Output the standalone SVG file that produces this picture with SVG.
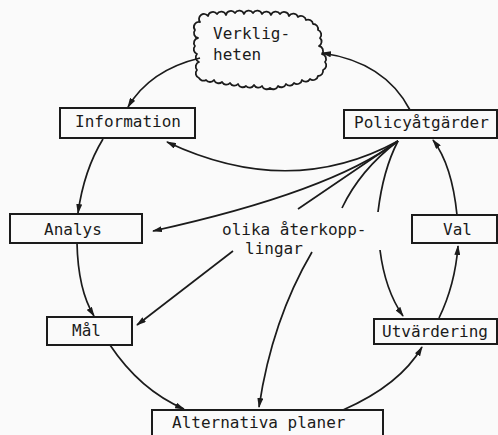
<svg xmlns="http://www.w3.org/2000/svg" width="498" height="435" viewBox="0 0 498 435">
  <style>
    .box { fill: none; stroke: #1b1b1b; stroke-width: 2; }
    .lbl { font-family: "DejaVu Sans Mono", "Liberation Mono", monospace; font-size: 16px; fill: #1b1b1b; }
    .edge { fill: none; stroke: #1b1b1b; stroke-width: 1.7; }
    .cloud { fill: none; stroke: #1b1b1b; stroke-width: 1.8; stroke-linejoin: round; }
  </style>
  <defs>
    <marker id="arrow" markerUnits="userSpaceOnUse" markerWidth="10" markerHeight="6" refX="9" refY="3" orient="auto">
      <path d="M0,0 L10,3 L0,6 z" fill="#1b1b1b"/>
    </marker>
  </defs>
  <rect width="498" height="435" fill="#fafafa"/>

  <g id="connectors">
    <!-- main cycle -->
    <path class="edge" d="M200,58 Q150,70 128,107" marker-end="url(#arrow)"/>
    <path class="edge" d="M103,139 Q84,170 78,213" marker-end="url(#arrow)"/>
    <path class="edge" d="M77,243 Q78,290 94,316" marker-end="url(#arrow)"/>
    <path class="edge" d="M110,345 Q140,390 184,409" marker-end="url(#arrow)"/>
    <path class="edge" d="M343,410 Q400,385 422,347" marker-end="url(#arrow)"/>
    <path class="edge" d="M439,318 Q455,285 458,246" marker-end="url(#arrow)"/>
    <path class="edge" d="M457,215 Q452,165 433,140" marker-end="url(#arrow)"/>
    <path class="edge" d="M410,110 Q385,62 322,53" marker-end="url(#arrow)"/>
    <!-- feedback fan from Policyåtgärder -->
    <path class="edge" d="M398,141 Q290,200 167,142" marker-end="url(#arrow)"/>
    <path class="edge" d="M398,141 Q330,192 153,231" marker-end="url(#arrow)"/>
    <path class="edge" d="M398,141 L298,209"/>
    <path class="edge" d="M233,251 L137,325" marker-end="url(#arrow)"/>
    <path class="edge" d="M398,141 Q360,170 342,208"/>
    <path class="edge" d="M312,252 Q272,320 259,407" marker-end="url(#arrow)"/>
    <path class="edge" d="M398,141 Q383,170 378,212"/>
    <path class="edge" d="M380,250 Q385,290 403,316" marker-end="url(#arrow)"/>
  </g>

  <g id="verkligheten">
    <path class="cloud" d="M200,22 A5,5 0 0 1 208,16 A5,5 0 0 1 217,14 A5,5 0 0 1 226,15 A5,5 0 0 1 235,13 A5,5 0 0 1 244,14 A5,5 0 0 1 253,13 A5,5 0 0 1 262,14 A5,5 0 0 1 271,15 A5,5 0 0 1 280,14 A5,5 0 0 1 289,16 A5,5 0 0 1 298,17 A5,5 0 0 1 306,20 A5,5 0 0 1 313,24 A5,5 0 0 1 318,30 A5,5 0 0 1 320,38 A5,5 0 0 1 319,46 A5,5 0 0 1 322,54 A5,5 0 0 1 325,62 A5,5 0 0 1 323,70 A5,5 0 0 1 318,76 A5,5 0 0 1 310,79 A5,5 0 0 1 302,80 A5,5 0 0 1 294,83 A5,5 0 0 1 286,84 A5,5 0 0 1 278,86 A5,5 0 0 1 270,88 A5,5 0 0 1 262,86 A5,5 0 0 1 254,85 A5,5 0 0 1 246,86 A5,5 0 0 1 238,84 A5,5 0 0 1 230,83 A5,5 0 0 1 222,82 A5,5 0 0 1 214,80 A5,5 0 0 1 206,80 A5,5 0 0 1 199,78 A5,5 0 0 1 197,70 A5,5 0 0 1 199,62 A5,5 0 0 1 197,54 A5,5 0 0 1 195,46 A5,5 0 0 1 198,38 A5,5 0 0 1 195,30 A5,5 0 0 1 200,22 Z"/>
    <text class="lbl" x="213" y="39">Verklig-</text>
    <text class="lbl" x="213" y="60">heten</text>
  </g>

  <g id="information">
    <rect class="box" x="60" y="108" width="135" height="30"/>
    <text class="lbl" x="75" y="127">Information</text>
  </g>

  <g id="policyatgarder">
    <rect class="box" x="344" y="110" width="153" height="28"/>
    <text class="lbl" x="354" y="128">Policyåtgärder</text>
  </g>

  <g id="analys">
    <rect class="box" x="10" y="214" width="132" height="29"/>
    <text class="lbl" x="44" y="235">Analys</text>
  </g>

  <g id="val">
    <rect class="box" x="412" y="215" width="85" height="28"/>
    <text class="lbl" x="443" y="235">Val</text>
  </g>

  <g id="mal">
    <rect class="box" x="47" y="317" width="85" height="28"/>
    <text class="lbl" x="72" y="336">Mål</text>
  </g>

  <g id="utvardering">
    <rect class="box" x="374" y="319" width="123" height="25"/>
    <text class="lbl" x="382" y="337">Utvärdering</text>
  </g>

  <g id="alternativa-planer">
    <rect class="box" x="152" y="410" width="231" height="30"/>
    <text class="lbl" x="172" y="428">Alternativa planer</text>
  </g>

  <g id="aterkopplingar">
    <text class="lbl" x="222" y="235">olika återkopp-</text>
    <text class="lbl" x="245" y="254">lingar</text>
  </g>
</svg>
